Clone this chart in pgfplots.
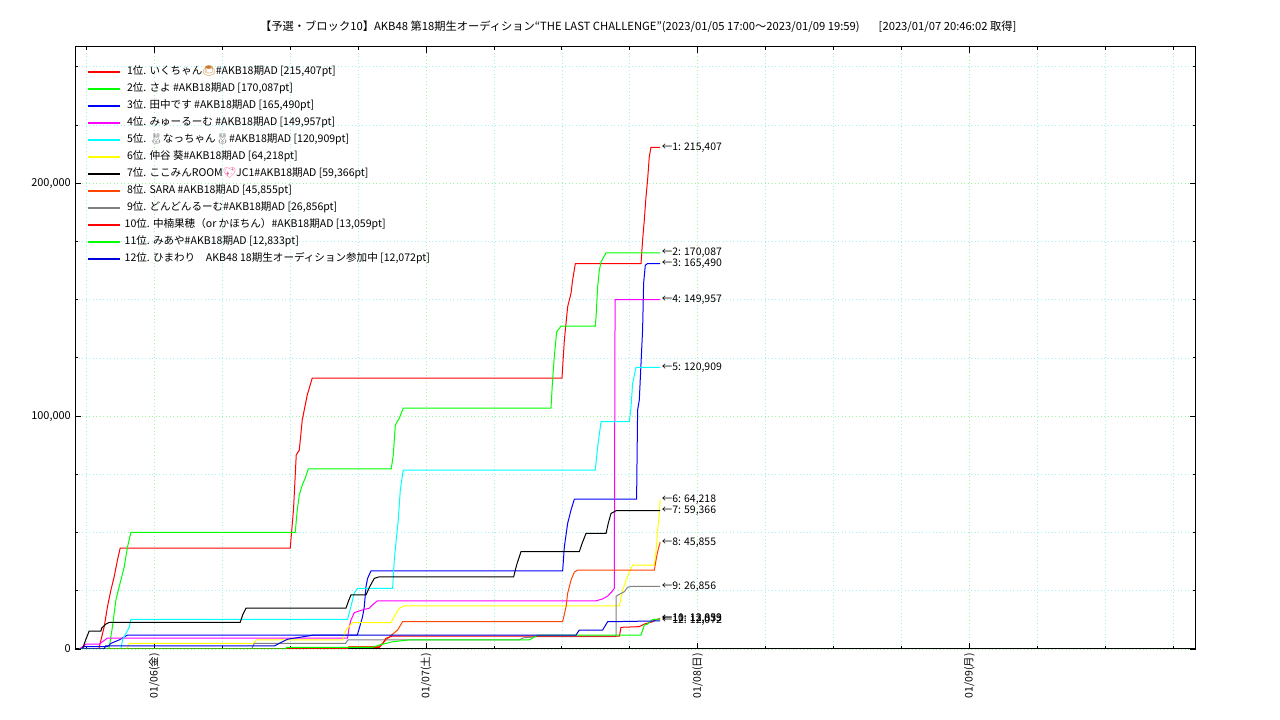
\documentclass[border=0pt]{standalone}
\usepackage{fontspec}
\setmainfont{Noto Sans CJK JP}
\newfontfamily\emoji{Noto Emoji}
\usepackage{pgfplots}
\pgfplotsset{compat=1.18}
\definecolor{serA}{RGB}{255,0,0}
\definecolor{serB}{RGB}{0,255,0}
\definecolor{serC}{RGB}{0,0,255}
\definecolor{serD}{RGB}{255,0,255}
\definecolor{serE}{RGB}{0,255,255}
\definecolor{serF}{RGB}{255,255,0}
\definecolor{serG}{RGB}{0,0,0}
\definecolor{serH}{RGB}{255,69,0}
\definecolor{serI}{RGB}{128,128,128}
\definecolor{serJ}{RGB}{255,0,0}
\definecolor{serK}{RGB}{0,255,0}
\definecolor{serL}{RGB}{0,0,220}
\definecolor{gmaj}{RGB}{160,245,160}
\definecolor{gmin}{RGB}{160,240,240}
\definecolor{pudding}{RGB}{205,120,40}
\definecolor{heart}{RGB}{240,90,160}
\newcommand{\lf}{\fontsize{10.6}{12}\selectfont}
\newcommand{\af}{\fontsize{10.5}{12}\selectfont}
\begin{document}
\begin{tikzpicture}[x=1bp,y=1bp]
\path[use as bounding box] (0,0) rectangle (1280,720);
\node[font=\fontsize{11.3}{13}\selectfont, inner sep=0pt, anchor=west] at (260,693.5) {【予選・ブロック10】AKB48 第18期生オーディション“THE LAST CHALLENGE”(2023/01/05 17:00〜2023/01/09 19:59)\hspace{19bp}[2023/01/07 20:46:02 取得]};
\begin{axis}[
  at={(75bp,71bp)}, anchor=south west, scale only axis,
  width=1121bp, height=602bp,
  xmin=0, xmax=99, ymin=0, ymax=258488,
  scaled y ticks=false, scaled x ticks=false,
  xtick={7,31,55,79},
  xticklabels={01/06(金),01/07(土),01/08(日),01/09(月)},
  minor xtick={1,13,19,25,37,43,49,61,67,73,85,91,97},
  ytick={0,100000,200000},
  yticklabels={0,{100,000},{200,000}},
  minor ytick={25000,50000,75000,125000,150000,175000,225000,250000},
  tick align=inside, major tick length=6bp, minor tick length=3bp,
  tick style={black, line width=0.8bp},
  grid=both,
  major grid style={draw=gmaj, line width=0.7bp, dash pattern=on 1bp off 2.5bp},
  minor grid style={draw=gmin, line width=0.7bp, dash pattern=on 1bp off 2.5bp},
  axis line style={line width=1bp},
  xticklabel style={rotate=90, anchor=east, font=\fontsize{10.5}{12}\selectfont, inner sep=4bp},
  yticklabel style={font=\fontsize{11}{12}\selectfont, inner sep=4bp},
  every axis plot/.append style={line width=1bp, mark=none},
  legend style={at={(0,1)}, anchor=north west, xshift=12.5bp, yshift=-16bp,
    draw=none, fill=none, inner sep=0pt, font=\lf, row sep=0pt,
    nodes={inner sep=0pt, text height=11bp, text depth=6bp},
    /tikz/every odd column/.append style={column sep=5bp}},
  legend cell align=left,
  legend image code/.code={\fill[#1] (0bp,-0.65bp) rectangle (31bp,0.65bp);},
]
\addplot[color=serA] coordinates {(0.4,0) (2.1,0) (2.58,9600) (2.87,18200) (3.17,25300) (3.46,31000) (3.75,38200) (3.99,43300) (19.01,43300) (19.3,60000) (19.54,83300) (19.81,85400) (20.07,98300) (20.51,109000) (20.95,116300) (43.01,116300) (43.22,132600) (43.51,146900) (43.81,152800) (43.95,158400) (44.19,165500) (49.99,165500) (50.13,175500) (50.28,184100) (50.43,194100) (50.57,201300) (50.72,211300) (50.87,215407) (51.68,215407)};
\addlegendentry{\ 1位. いくちゃん{\emoji\textcolor{pudding}{🍮}}\#AKB18期AD [215,407pt]}
\addplot[color=serB] coordinates {(0.4,0) (3.0,0) (3.31,9600) (3.61,21000) (3.90,26700) (4.35,35300) (4.64,43900) (4.94,50100) (19.45,50100) (19.63,59700) (19.81,66100) (20.07,70400) (20.34,73400) (20.60,77300) (27.93,77300) (28.11,83300) (28.29,96100) (28.64,99100) (28.99,103400) (42.04,103400) (42.18,115500) (42.33,125500) (42.54,136200) (42.92,138600) (45.95,138600) (46.02,142600) (46.16,155500) (46.31,162700) (46.46,166200) (46.90,170087) (51.68,170087)};
\addlegendentry{\ 2位. さよ \#AKB18期AD [170,087pt]}
\addplot[color=serC] coordinates {(0.4,0) (0.8,1000) (2.87,1000) (3.17,2400) (3.90,3900) (4.64,6000) (24.93,6000) (25.11,8900) (25.40,13900) (25.55,18200) (25.70,26700) (25.84,30300) (26.14,33500) (43.07,33500) (43.22,43900) (43.51,53900) (43.81,59700) (44.10,64300) (49.60,64300) (49.69,102600) (49.84,106900) (49.99,122600) (50.13,136900) (50.22,157000) (50.37,164800) (50.57,165490) (51.68,165490)};
\addlegendentry{\ 3位. 田中です \#AKB18期AD [165,490pt]}
\addplot[color=serD] coordinates {(0.4,0) (0.96,2100) (2.14,2100) (2.87,4700) (24.07,4700) (24.22,9600) (24.37,12400) (24.66,15600) (25.40,16800) (25.99,17500) (26.28,19000) (26.72,20700) (46.02,20700) (46.6,21500) (47.04,22700) (47.40,24500) (47.63,26000) (47.70,149957) (51.68,149957)};
\addlegendentry{\ 4位. みゅーるーむ \#AKB18期AD [149,957pt]}
\addplot[color=serE] coordinates {(0.4,0) (4.05,0) (4.20,3900) (4.50,6700) (4.79,9400) (4.94,12700) (24.07,12700) (24.37,18200) (24.66,23900) (24.96,26000) (28.05,26000) (28.20,38200) (28.37,46800) (28.55,55400) (28.73,68200) (28.99,76800) (45.95,76800) (46.16,86800) (46.46,97600) (48.96,97600) (49.11,104000) (49.25,114000) (49.55,120909) (51.68,120909)};
\addlegendentry{\ 5位. {\emoji\textcolor{gray}{🐰}}なっちゃん{\emoji\textcolor{gray}{🐰}}\#AKB18期AD [120,909pt]}
\addplot[color=serF] coordinates {(0.4,0) (4.6,0) (4.79,2400) (15.83,2400) (16.0,3900) (23.63,3900) (23.93,8150) (24.51,11300) (27.91,11300) (28.20,13900) (28.64,17500) (29.08,18500) (48.08,18500) (48.37,25300) (48.67,29600) (48.96,33000) (49.25,36000) (51.17,36000) (51.32,42500) (51.46,51000) (51.61,58200) (51.68,64218)};
\addlegendentry{\ 6位. 仲谷 葵\#AKB18期AD [64,218pt]}
\addplot[color=serG] coordinates {(0.4,0) (0.66,0) (0.95,4000) (1.25,7700) (2.29,7700) (2.35,8900) (2.73,10700) (3.02,11400) (14.59,11400) (14.8,14500) (15.10,17500) (23.93,17500) (24.15,20500) (24.37,23200) (25.70,23200) (26.0,26500) (26.43,30300) (26.87,31000) (38.74,31000) (39.0,36000) (39.39,41800) (44.54,41800) (44.8,45500) (45.13,49600) (46.90,49600) (47.1,54000) (47.34,58200) (47.78,59366) (51.68,59366)};
\addlegendentry{\ 7位. ここみんROOM{\emoji\textcolor{heart}{💖}}JC1\#AKB18期AD [59,366pt]}
\addplot[color=serH] coordinates {(0.4,0) (24.0,0) (24.2,1000) (26.87,1000) (27.46,3900) (28.49,8150) (28.93,11700) (43.07,11700) (43.37,18200) (43.51,23900) (43.81,29600) (44.10,33000) (44.39,33900) (51.17,33900) (51.32,38200) (51.46,41800) (51.68,45855)};
\addlegendentry{\ 8位. SARA \#AKB18期AD [45,855pt]}
\addplot[color=serI] coordinates {(0.4,0) (15.6,0) (15.83,2400) (23.9,2400) (24.1,3900) (39.24,3900) (39.6,4800) (40.86,5300) (47.78,5300) (47.80,22700) (48.22,23900) (48.52,24600) (48.81,26500) (49.11,26856) (51.68,26856)};
\addlegendentry{\ 9位. どんどんるーむ\#AKB18期AD [26,856pt]}
\addplot[color=serJ] coordinates {(0.4,0) (24.0,0) (24.2,700) (26.87,700) (27.2,2400) (27.46,4600) (28.0,5500) (48.08,5500) (48.22,9300) (49.84,9600) (50.28,10700) (51.02,11700) (51.32,12600) (51.68,13059)};
\addlegendentry{10位. 中楠果穂（or かほちん）\#AKB18期AD [13,059pt]}
\addplot[color=serK] coordinates {(0.4,0) (18.5,0) (18.75,700) (26.28,700) (26.87,1700) (28.05,3100) (29.52,3900) (40.12,3900) (40.86,6000) (49.99,6000) (50.28,10300) (50.57,10700) (51.02,12700) (51.68,12833)};
\addlegendentry{11位. みあや\#AKB18期AD [12,833pt]}
\addplot[color=serL] coordinates {(0.4,0) (2.58,0) (2.7,1300) (17.60,1300) (18.77,4200) (21.13,6000) (44.25,6000) (44.54,8150) (46.60,8150) (47.04,11700) (51.68,12072)};
\addlegendentry{12位. ひまわり　AKB48 18期生オーディション参加中 [12,072pt]}
\begin{scope}[every node/.style={anchor=west, font=\af, inner sep=1.5bp}]
\node at (axis cs:51.68,215407) {←1: 215,407};
\node at (axis cs:51.68,170087) {←2: 170,087};
\node at (axis cs:51.68,165490) {←3: 165,490};
\node at (axis cs:51.68,149957) {←4: 149,957};
\node at (axis cs:51.68,120909) {←5: 120,909};
\node at (axis cs:51.68,64218) {←6: 64,218};
\node at (axis cs:51.68,59366) {←7: 59,366};
\node at (axis cs:51.68,45855) {←8: 45,855};
\node at (axis cs:51.68,26856) {←9: 26,856};
\node at (axis cs:51.68,13059) {←10: 13,059};
\node at (axis cs:51.68,12833) {←11: 12,833};
\node at (axis cs:51.68,12072) {←12: 12,072};
\end{scope}
\end{axis}
\end{tikzpicture}
\end{document}
